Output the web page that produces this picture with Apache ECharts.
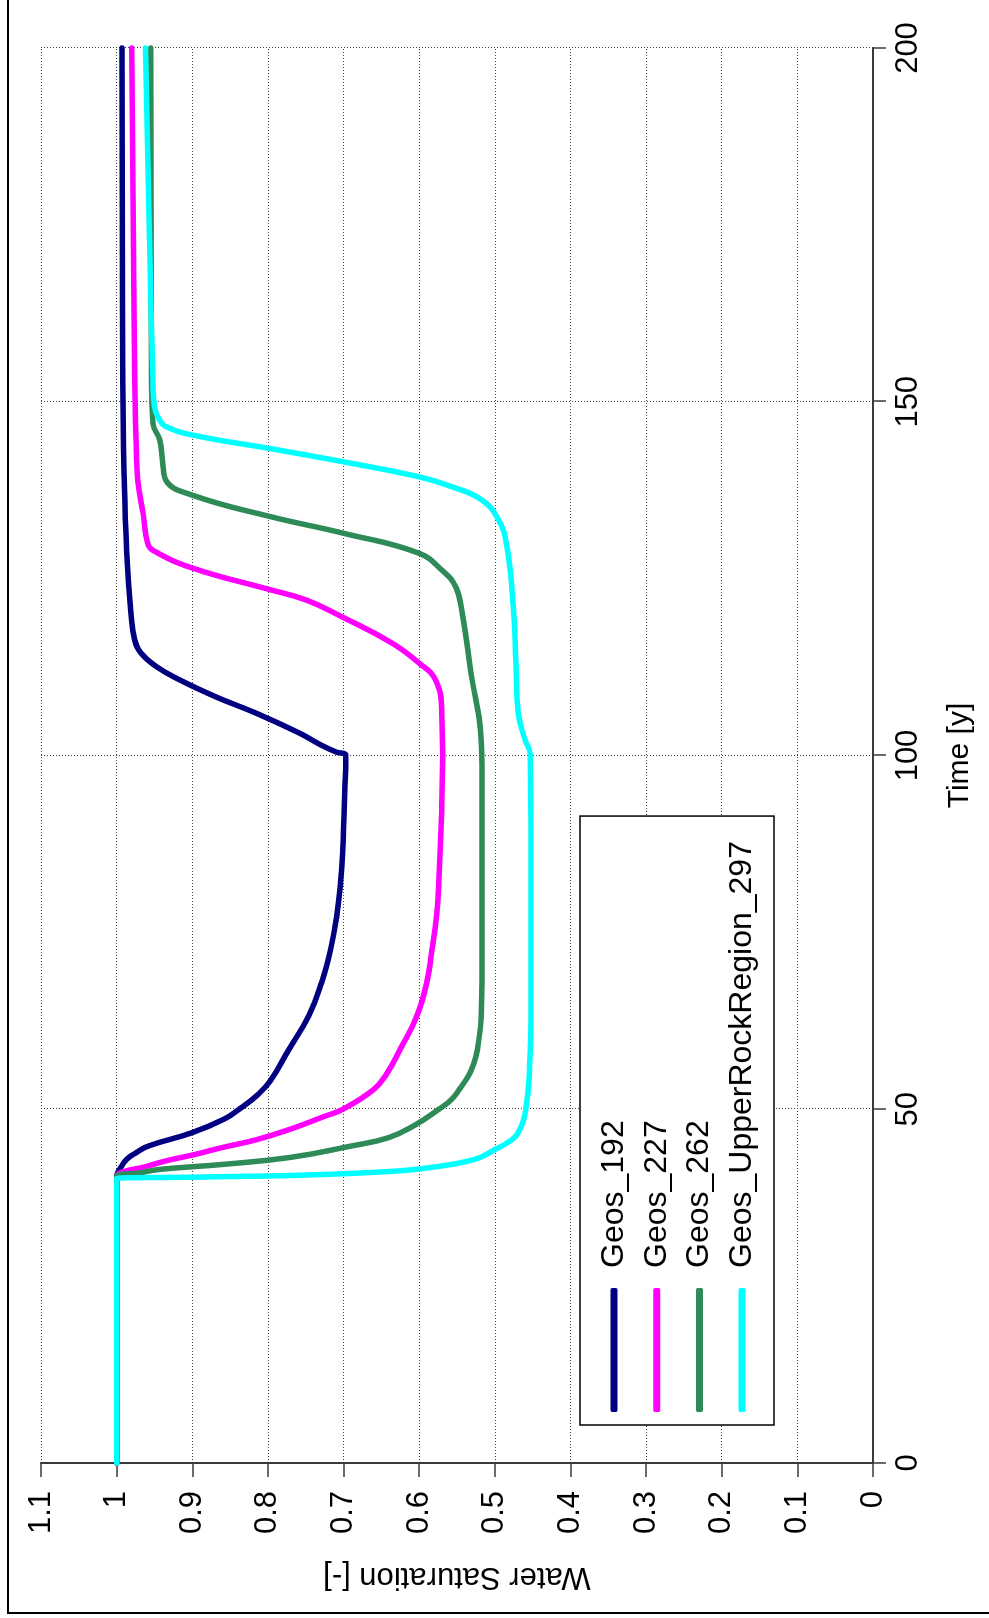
<!DOCTYPE html>
<html>
<head>
<meta charset="utf-8">
<title>Water Saturation vs Time</title>
<script src="https://cdn.jsdelivr.net/npm/echarts@6/dist/echarts.min.js"></script>
<style>
  html, body { margin: 0; padding: 0; background: #fff; overflow: hidden; }
  body { width: 989px; height: 1618px; position: relative; }
  /* The chart is laid out in landscape and turned a quarter turn counter-clockwise */
  #chart {
    position: absolute; left: 0; top: 0;
    width: 1618px; height: 989px;
    transform-origin: 0 0;
    transform: translateY(1618px) rotate(-90deg);
  }
</style>
</head>
<body>
<div id="chart"></div>
<script>
// Time [y] versus water saturation [-] for four observation points
const seriesNames = ['Geos_192', 'Geos_227', 'Geos_262', 'Geos_UpperRockRegion_297'];
const seriesColors = ['#000080', '#ff00ff', '#2e8b57', '#00ffff'];

const timeAxis = { min: 0, max: 200, step: 50 };
const satAxis = { min: 0, max: 1.1, step: 0.1 };

const geos192 = [
  [0, 1.0], [40.5, 1.0], [41.5, 0.996], [42.9, 0.987], [43.8, 0.975], [44.8, 0.958],
  [46.7, 0.9], [48.6, 0.858], [50, 0.838], [52, 0.814], [54, 0.797], [58.5, 0.772],
  [63.2, 0.746], [67.9, 0.729], [72.6, 0.717], [77.3, 0.709], [82, 0.704], [86.7, 0.701],
  [91.4, 0.6995], [96, 0.698], [100, 0.697], [100.5, 0.71], [101.5, 0.73], [103.2, 0.759],
  [106, 0.816], [108.3, 0.869], [110.7, 0.917], [112.6, 0.948], [114.5, 0.968],
  [116.3, 0.976], [120, 0.981], [129.5, 0.987], [139, 0.99], [153, 0.992], [200, 0.993]
];

const geos227 = [
  [0, 1.0], [40.5, 1.0], [41.2, 0.99], [41.8, 0.965], [42.7, 0.935], [43.6, 0.897],
  [44.6, 0.86], [45.7, 0.815], [47.2, 0.77], [49, 0.725], [50, 0.701], [52.8, 0.66],
  [55, 0.643], [58.5, 0.625], [63.2, 0.603], [67.9, 0.59], [72.6, 0.583], [77.3, 0.577],
  [82, 0.574], [91.4, 0.5705], [100, 0.569], [106, 0.57], [110.7, 0.5785], [113.1, 0.6005],
  [115.9, 0.636], [119.6, 0.702], [122, 0.75], [123.6, 0.803], [126.5, 0.9], [129, 0.952],
  [130, 0.959], [134.2, 0.965], [138.9, 0.972], [143.6, 0.974], [153, 0.976], [200, 0.98]
];

const geos262 = [
  [0, 1.0], [40.5, 1.0], [41.0, 0.97], [41.5, 0.943], [42.2, 0.86], [43.2, 0.77],
  [44.8, 0.69], [46, 0.64], [47.8, 0.605], [50, 0.574], [51.4, 0.557], [52.8, 0.547],
  [54.7, 0.535], [56.1, 0.529], [58.5, 0.523], [63.2, 0.518], [70, 0.517], [82, 0.517],
  [96.6, 0.517], [103.6, 0.519], [110.7, 0.53], [120.1, 0.543], [123.9, 0.552],
  [126.2, 0.57], [128.6, 0.6005], [131.4, 0.6995], [133.8, 0.798], [136.8, 0.9],
  [138.9, 0.935], [141.3, 0.939], [144.6, 0.943], [146.9, 0.952], [153, 0.954], [200, 0.955]
];

const geosUpperRock297 = [
  [0, 1.0], [40.2, 1.0], [40.4, 0.9], [40.7, 0.75], [41.2, 0.64], [41.7, 0.59],
  [42.9, 0.527], [44.3, 0.5], [45.5, 0.48], [46.7, 0.469], [50, 0.459], [56, 0.454],
  [65, 0.452], [80, 0.452], [100, 0.453], [102.2, 0.46], [106, 0.469], [113, 0.472],
  [120, 0.475], [129.5, 0.484], [133.3, 0.495], [136.1, 0.517], [138, 0.557],
  [139.4, 0.6005], [141.5, 0.6995], [143.4, 0.798], [145.3, 0.9], [146.5, 0.935],
  [147.4, 0.943], [149.3, 0.95], [153, 0.952], [170, 0.956], [200, 0.962]
];

const seriesData = [geos192, geos227, geos262, geosUpperRock297];

const FONT = '"Liberation Sans", Arial, sans-serif';
const INK = '#000';
const AXIS = '#3a3a3a';
const GRIDLINE = '#404040';

const chart = echarts.init(document.getElementById('chart'), null, { renderer: 'canvas' });

chart.setOption({
  animation: false,
  backgroundColor: '#fff',
  textStyle: { fontFamily: FONT },
  graphic: [{
    type: 'rect',
    shape: { x: 5, y: 8, width: 2000, height: 2000 },
    style: { fill: 'none', stroke: '#000', lineWidth: 2 },
    silent: true,
    z: 0
  }],
  grid: { left: 155, right: 48, top: 41, bottom: 116 },
  legend: {
    orient: 'vertical',
    left: 193,
    top: 580,
    padding: [18, 25, 16, 13],
    backgroundColor: '#fff',
    borderColor: '#000',
    borderWidth: 1.5,
    borderRadius: 0,
    icon: 'roundRect',
    itemWidth: 124,
    itemHeight: 7,
    itemGap: 10.7,
    textStyle: {
      fontFamily: FONT, fontSize: 32, color: INK, lineHeight: 32,
      padding: [0, 0, 0, 15]
    },
    data: seriesNames
  },
  xAxis: {
    type: 'value',
    min: timeAxis.min, max: timeAxis.max, interval: timeAxis.step,
    name: 'Time [y]',
    nameLocation: 'middle',
    nameGap: 72,
    nameTextStyle: { fontFamily: FONT, fontSize: 30, color: INK },
    axisLine: { show: true, onZero: false, lineStyle: { color: AXIS, width: 2 } },
    axisTick: { show: true, length: 13, lineStyle: { color: AXIS, width: 1.5 } },
    axisLabel: {
      margin: 20, fontFamily: FONT, fontSize: 31, color: INK,
      formatter: v => String(Math.round(v))
    },
    splitLine: { show: true, lineStyle: { color: GRIDLINE, width: 1, type: [1, 2] } }
  },
  yAxis: {
    type: 'value',
    min: satAxis.min, max: satAxis.max, interval: satAxis.step,
    name: 'Water Saturation [-]',
    nameLocation: 'middle',
    nameGap: 98,
    nameTextStyle: { fontFamily: FONT, fontSize: 31, color: INK },
    axisLine: { show: true, onZero: false, lineStyle: { color: AXIS, width: 2 } },
    axisTick: { show: true, length: 14, lineStyle: { color: AXIS, width: 1.5 } },
    axisLabel: {
      margin: 28, fontFamily: FONT, fontSize: 31, color: INK,
      formatter: v => String(+v.toFixed(1))
    },
    splitLine: { show: true, lineStyle: { color: GRIDLINE, width: 1, type: [1, 2] } }
  },
  series: seriesNames.map((name, i) => ({
    name,
    type: 'line',
    data: seriesData[i],
    showSymbol: false,
    symbol: 'none',
    smooth: 0.45,
    color: seriesColors[i],
    lineStyle: { color: seriesColors[i], width: 5.5, cap: 'round', join: 'round' },
    z: 2 + i
  }))
});
</script>
</body>
</html>
